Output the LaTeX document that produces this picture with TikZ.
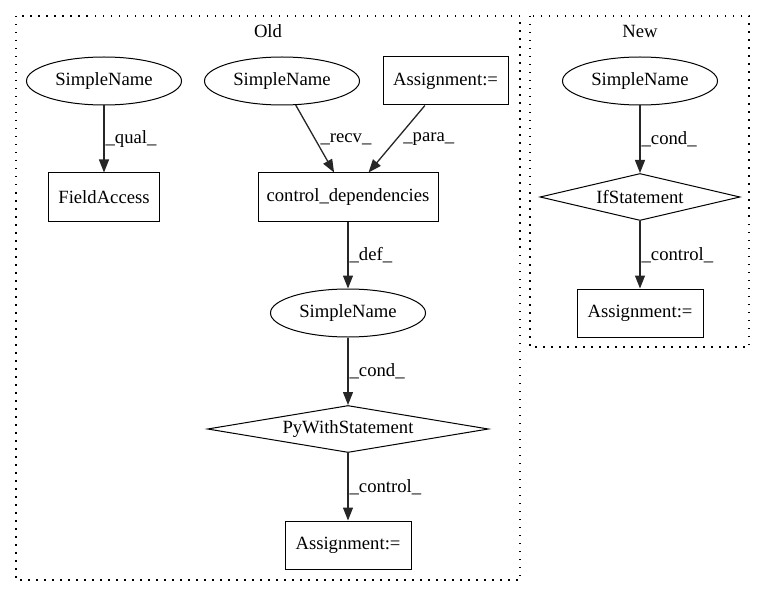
\documentclass[tikz,border=0pt]{standalone}
\usepackage{fontspec}
\setmainfont{Liberation Serif}
\usetikzlibrary{shapes.geometric,arrows.meta}
\begin{document}
\begin{tikzpicture}[x=1pt,y=-1pt,
  every node/.style={font=\fontsize{18.67}{22}\selectfont},
  ell/.style={draw, ellipse, line width=1pt, minimum width=155pt, minimum height=48pt, inner sep=0pt},
  box/.style={draw, rectangle, line width=1pt, minimum height=48pt, inner sep=0pt},
  dia/.style={draw, diamond, aspect=6, line width=1pt, inner sep=0pt},
  edge/.style={draw=black!85, line width=1.3pt, -{Triangle[length=13pt,width=10pt]}},
  lbl/.style={anchor=west, inner sep=1pt},
  cluster/.style={draw, line width=1.2pt, dash pattern=on 1.5pt off 6.5pt}]
\useasboundingbox (0,0) rectangle (765,596);
% clusters
\draw[cluster] (16,16) rectangle (520,580);
\draw[cluster] (530,16) rectangle (749,347);
\node (oldlbl) at (268,31) {Old};
\node (newlbl) at (640,31) {New};
% Old nodes
\node[ell] (sn1) at (104,81) {SimpleName};
\node[box, minimum width=111pt] (fa) at (104,197) {FieldAccess};
\node[ell] (sn2) at (282,81) {SimpleName};
\node[box, minimum width=125pt] (as1) at (445.5,81) {Assignment:=};
\node[box, minimum width=180pt] (cd) at (348,197) {control\_dependencies};
\node[ell] (sn3) at (348,313) {SimpleName};
\node[dia, minimum width=281pt, minimum height=47pt] (pw) at (348,429) {PyWithStatement};
\node[box, minimum width=126pt] (as2) at (348,545) {Assignment:=};
% New nodes
\node[ell] (sn4) at (640,81) {SimpleName};
\node[dia, aspect=5, minimum width=200pt, minimum height=47pt] (ifs) at (640,197) {IfStatement};
\node[box, minimum width=126pt] (as3) at (640,313) {Assignment:=};
% edges
\draw[edge] (sn1) -- node[lbl]{\_qual\_} (fa);
\draw[edge] (sn2) -- node[lbl, xshift=4pt]{\_recv\_} (cd);
\draw[edge] (as1) -- node[lbl, xshift=5pt]{\_para\_} (cd);
\draw[edge] (cd) -- node[lbl]{\_def\_} (sn3);
\draw[edge] (sn3) -- node[lbl]{\_cond\_} (pw);
\draw[edge] (pw) -- node[lbl]{\_control\_} (as2);
\draw[edge] (sn4) -- node[lbl]{\_cond\_} (ifs);
\draw[edge] (ifs) -- node[lbl]{\_control\_} (as3);
\end{tikzpicture}
\end{document}
